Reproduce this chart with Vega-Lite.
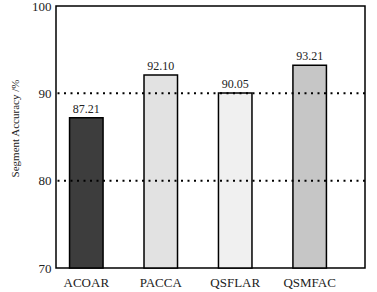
{
  "$schema": "https://vega.github.io/schema/vega-lite/v6.json",
  "width": 309,
  "height": 262,
  "autosize": {"type": "none"},
  "padding": {"left": 56, "top": 6, "right": 12, "bottom": 24},
  "background": "white",
  "config": {
    "view": {"stroke": "black", "strokeWidth": 1.5},
    "font": "Liberation Serif"
  },
  "datasets": {
    "bars": [
      {"method": "ACOAR", "acc": 87.21, "label": "87.21"},
      {"method": "PACCA", "acc": 92.10, "label": "92.10"},
      {"method": "QSFLAR", "acc": 90.05, "label": "90.05"},
      {"method": "QSMFAC", "acc": 93.21, "label": "93.21"}
    ],
    "lines": [{"y": 80}, {"y": 90}]
  },
  "layer": [
    {
      "data": {"name": "bars"},
      "mark": {"type": "bar", "stroke": "black", "strokeWidth": 1.5},
      "encoding": {
        "x": {
          "field": "method", "type": "nominal", "sort": null,
          "scale": {"paddingInner": 0.55, "paddingOuter": 0.35, "align": 0.26},
          "axis": {"title": null, "labelAngle": 0, "ticks": false, "domain": false,
                   "labelPadding": 8, "labelFontSize": 13, "labelColor": "#222", "labelFont": "Liberation Serif"}
        },
        "y": {
          "field": "acc", "type": "quantitative",
          "scale": {"domain": [70, 100], "nice": false, "zero": false},
          "axis": {"values": [70, 80, 90, 100], "grid": false, "ticks": false, "domain": false,
                   "labelPadding": 5, "labelFontSize": 13, "labelColor": "#222", "labelFont": "Liberation Serif",
                   "title": "Segment Accuracy  /%", "titleFontSize": 11, "titleFontWeight": "normal",
                   "titleFont": "Liberation Serif", "titleColor": "#222", "titlePadding": 11, "titleY": 122}
        },
        "y2": {"datum": 70},
        "fill": {
          "field": "method", "type": "nominal", "legend": null,
          "scale": {"domain": ["ACOAR", "PACCA", "QSFLAR", "QSMFAC"],
                    "range": ["#3d3d3d", "#e2e2e2", "#f0f0f0", "#c6c6c6"]}
        }
      }
    },
    {
      "data": {"name": "bars"},
      "mark": {"type": "text", "dy": -9, "fontSize": 12, "font": "Liberation Serif", "color": "#222"},
      "encoding": {
        "x": {"field": "method", "type": "nominal", "sort": null},
        "y": {"field": "acc", "type": "quantitative"},
        "text": {"field": "label"}
      }
    },
    {
      "data": {"name": "lines"},
      "mark": {"type": "rule", "strokeDash": [2, 4.5], "strokeWidth": 2, "color": "black"},
      "encoding": {"y": {"field": "y", "type": "quantitative"}}
    }
  ]
}
